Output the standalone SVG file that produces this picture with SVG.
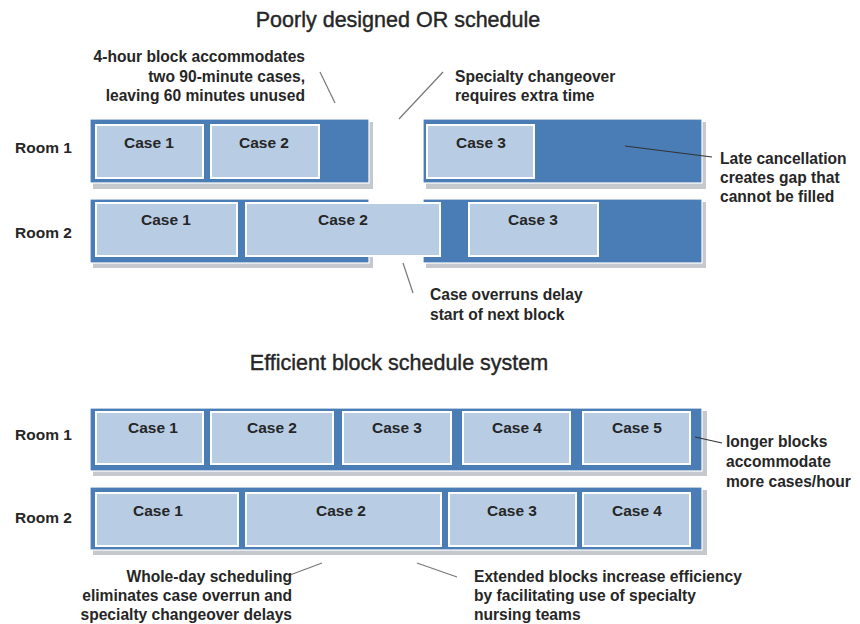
<svg xmlns="http://www.w3.org/2000/svg" width="860" height="624" viewBox="0 0 860 624">
<style>
text{font-family:"Liberation Sans",Arial,sans-serif;fill:#262626;font-weight:bold}
.t{font-size:21.5px;text-anchor:middle;font-weight:normal;stroke:#262626;stroke-width:0.4}
.a{font-size:15.6px}
.r{font-size:15.5px}
.c{font-size:15.5px;text-anchor:middle}
.end{text-anchor:end}
.shadow{fill:#c5c9ce}
.bar{fill:#4a7cb6;stroke:#ffffff;stroke-width:1.2}
.case{fill:#b8cce4;stroke:#ffffff;stroke-width:2}
.ln{stroke:#333;stroke-width:1.2;fill:none}
.lnl{stroke:#777;stroke-width:1.2;fill:none}
</style>
<rect width="860" height="624" fill="#ffffff"/>

<text class="t" x="398" y="27">Poorly designed OR schedule</text>
<text class="t" x="399" y="370">Efficient block schedule system</text>

<g id="labels">
<text class="r" x="15" y="153">Room 1</text>
<text class="r" x="15" y="238">Room 2</text>
<text class="r" x="15" y="440">Room 1</text>
<text class="r" x="15" y="523">Room 2</text>
</g>

<g id="top-room1-left">
<rect class="shadow" x="93" y="122" width="280" height="67"/>
<rect class="bar" x="90" y="119" width="279" height="64"/>
<rect class="case" x="96" y="125" width="107" height="53"/>
<rect class="case" x="211" y="125" width="108" height="53"/>
<text class="c" x="149" y="148">Case 1</text>
<text class="c" x="264" y="148">Case 2</text>
</g>
<g id="top-room1-right">
<rect class="shadow" x="426" y="122" width="280" height="67"/>
<rect class="bar" x="423" y="119" width="279" height="64"/>
<rect class="case" x="427" y="125" width="107" height="53"/>
<text class="c" x="481" y="148">Case 3</text>
</g>
<g id="top-room2-right">
<rect class="shadow" x="426" y="202" width="280" height="66"/>
<rect class="bar" x="423" y="199" width="279" height="64"/>
<rect class="case" x="469" y="203" width="129" height="53"/>
<text class="c" x="533" y="225">Case 3</text>
</g>
<g id="top-room2-left">
<rect class="shadow" x="93" y="202" width="280" height="66"/>
<rect class="bar" x="90" y="199" width="279" height="64"/>
<rect class="case" x="96" y="203" width="141" height="53"/>
<text class="c" x="166" y="225">Case 1</text>
<rect class="case" x="246" y="203" width="194" height="53"/>
<text class="c" x="343" y="225">Case 2</text>
</g>

<g id="bottom-room1">
<rect class="shadow" x="93" y="411" width="614" height="65"/>
<rect class="bar" x="90" y="408" width="612" height="63"/>
<rect class="case" x="96" y="412" width="107" height="52"/>
<rect class="case" x="211" y="412" width="122" height="52"/>
<rect class="case" x="343" y="412" width="108" height="52"/>
<rect class="case" x="463" y="412" width="107" height="52"/>
<rect class="case" x="583" y="412" width="107" height="52"/>
<text class="c" x="153" y="433">Case 1</text>
<text class="c" x="272" y="433">Case 2</text>
<text class="c" x="397" y="433">Case 3</text>
<text class="c" x="517" y="433">Case 4</text>
<text class="c" x="637" y="433">Case 5</text>
</g>
<g id="bottom-room2">
<rect class="shadow" x="93" y="490" width="614" height="65"/>
<rect class="bar" x="90" y="487" width="612" height="63"/>
<rect class="case" x="96" y="493" width="142" height="53"/>
<rect class="case" x="246" y="493" width="195" height="53"/>
<rect class="case" x="449" y="493" width="127" height="53"/>
<rect class="case" x="583" y="493" width="107" height="53"/>
<text class="c" x="158" y="516">Case 1</text>
<text class="c" x="341" y="516">Case 2</text>
<text class="c" x="512" y="516">Case 3</text>
<text class="c" x="637" y="516">Case 4</text>
</g>

<g id="connectors">
<line class="lnl" x1="320" y1="72" x2="335" y2="103"/>
<line class="lnl" x1="443" y1="72" x2="399" y2="119"/>
<line class="ln" x1="625" y1="146" x2="712" y2="157"/>
<line class="lnl" x1="403" y1="263" x2="413" y2="293"/>
<line class="ln" x1="695" y1="437" x2="722" y2="443"/>
<line class="lnl" x1="322" y1="563" x2="290" y2="575"/>
<line class="lnl" x1="417" y1="563" x2="457" y2="577"/>
</g>

<g id="annotations">
<text class="a end" x="305" y="62">4-hour block accommodates</text>
<text class="a end" x="305" y="82">two 90-minute cases,</text>
<text class="a end" x="305" y="101">leaving 60 minutes unused</text>
<text class="a" x="455" y="82">Specialty changeover</text>
<text class="a" x="455" y="101">requires extra time</text>
<text class="a" x="720" y="164">Late cancellation</text>
<text class="a" x="720" y="183">creates gap that</text>
<text class="a" x="720" y="202">cannot be filled</text>
<text class="a" x="430" y="300">Case overruns delay</text>
<text class="a" x="430" y="320">start of next block</text>
<text class="a" x="726" y="447">longer blocks</text>
<text class="a" x="726" y="467">accommodate</text>
<text class="a" x="726" y="487">more cases/hour</text>
<text class="a end" x="292" y="582">Whole-day scheduling</text>
<text class="a end" x="292" y="601">eliminates case overrun and</text>
<text class="a end" x="292" y="620">specialty changeover delays</text>
<text class="a" x="474" y="582">Extended blocks increase efficiency</text>
<text class="a" x="474" y="601">by facilitating use of specialty</text>
<text class="a" x="474" y="620">nursing teams</text>
</g>
</svg>
